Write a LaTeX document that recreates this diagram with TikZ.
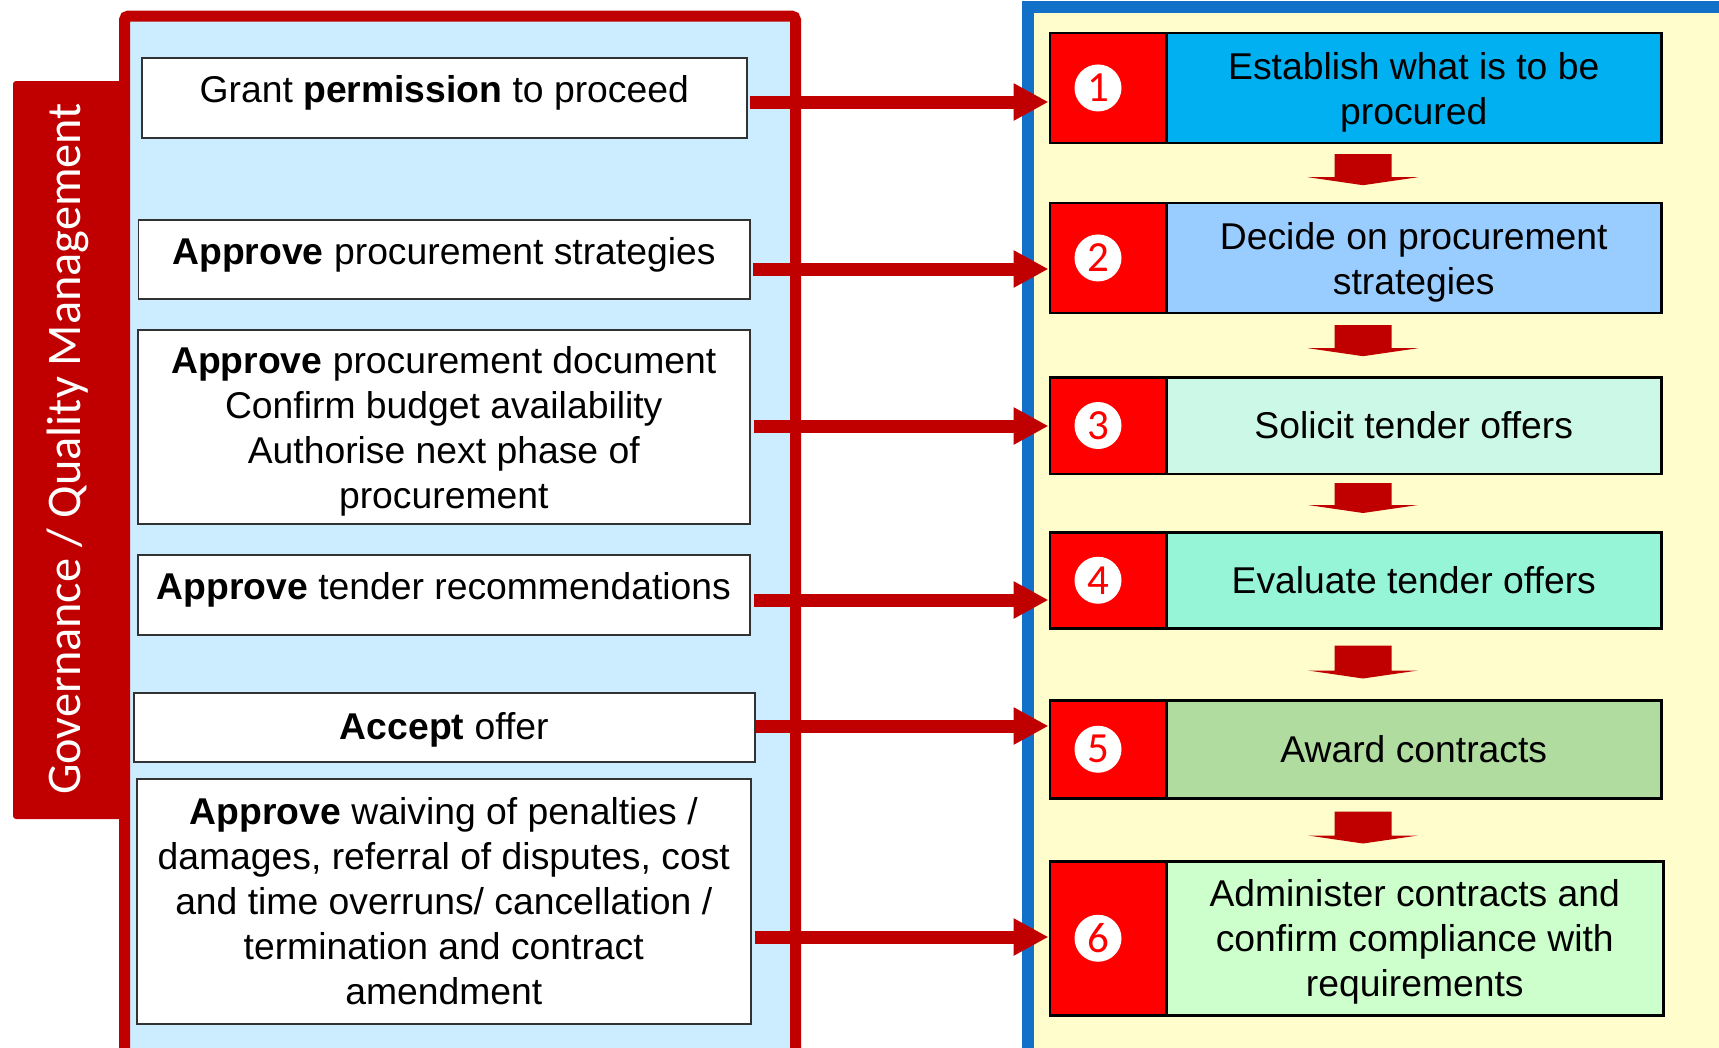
\documentclass[tikz,border=0pt]{standalone}
\usepackage{fontspec}
\setmainfont{Liberation Sans}
\newfontfamily\govfont{Carlito}
\usetikzlibrary{arrows.meta,calc}
\definecolor{fr}{RGB}{192,0,0}
\definecolor{panelblue}{RGB}{204,236,255}
\definecolor{frameblue}{RGB}{17,112,200}
\definecolor{panelyellow}{RGB}{255,253,204}
\definecolor{numred}{RGB}{255,0,0}
\definecolor{cA}{RGB}{0,176,240}
\definecolor{cB}{RGB}{153,204,255}
\definecolor{cC}{RGB}{204,248,232}
\definecolor{cD}{RGB}{150,245,215}
\definecolor{cE}{RGB}{176,220,160}
\definecolor{cF}{RGB}{204,255,204}
\definecolor{boxline}{RGB}{50,50,50}
\newcommand\shiftdn[1]{\rule{0pt}{#1pt}}
\newcommand\shiftup[1]{\rule[-#1pt]{0pt}{#1pt}}
\newcommand\blockdown[3]{%
  \fill[fr] ($(#1.south -| ax)+(-28.5,#2)$) -- ++(57,0) -- ++(0,{#3-8}) -- ++(26.5,0)
    -- ++(-55,8) -- ++(-55,-8) -- ++(26.5,0) -- cycle;}
\tikzset{
  lbox/.style={draw=boxline, line width=1.5pt, fill=white, anchor=north west, inner sep=0pt,
    align=center, font=\fontsize{37.3}{45}\selectfont},
  numbox/.style={draw=black, line width=2.5pt, fill=numred, anchor=north west, inner sep=0pt,
    minimum width=116.5pt},
  stepbox/.style={draw=black, line width=2.5pt, anchor=north west, inner sep=0pt,
    minimum width=495pt, align=center, font=\fontsize{37.3}{45}\selectfont},
  numcirc/.style={circle, fill=white, minimum size=47pt, inner sep=0pt, text=numred,
    font=\govfont\fontsize{43}{43}\selectfont},
  harrow/.style={draw=fr, line width=13pt, -{Triangle[length=35pt,width=35pt]}},
}
\begin{document}
\begin{tikzpicture}[x=1pt,y=-1pt]
\fill[white] (0,0) rectangle (1719,1047);
\useasboundingbox (0,0) rectangle (1719,1047);

% governance band
\fill[fr, rounded corners=3pt] (13,81) rectangle (126,819);
\node[rotate=90, text=white, font=\govfont\fontsize{48.3}{48.3}\selectfont] (gov) at (68,449)
  {Governance / Quality Management};

% left panel
\draw[fr, line width=11pt, fill=panelblue, rounded corners=4pt]
  (124.5,1070) -- (124.5,16) -- (795.5,16) -- (795.5,1070) -- cycle;

% right panel
\draw[frameblue, line width=12pt, fill=panelyellow] (1028,7) rectangle (1740,1058);

% left boxes
\node[lbox, minimum width=605pt, minimum height=80pt] (b1) at (141,57)
  {\shiftup{16.6}Grant \textbf{permission} to proceed};
\node[lbox, minimum width=611.5pt, minimum height=79pt] (b2) at (137.5,219)
  {\shiftup{16.6}\textbf{Approve} procurement strategies};
\node[lbox, minimum width=612pt, minimum height=194pt] (b3) at (137,329)
  {\shiftdn{36}\textbf{Approve} procurement document\\Confirm budget availability\\Authorise next phase of\\procurement};
\node[lbox, minimum width=612pt, minimum height=80pt] (b4) at (137,554)
  {\shiftup{16.6}\textbf{Approve} tender recommendations};
\node[lbox, minimum width=621pt, minimum height=69pt] (b5) at (133,692)
  {\shiftdn{31.4}\textbf{Accept} offer};
\node[lbox, minimum width=614pt, minimum height=245pt] (b6) at (136,778)
  {\textbf{Approve} waiving of penalties /\\damages, referral of disputes, cost\\and time overruns/ cancellation /\\termination and contract\\amendment};

% step boxes
\node[numbox, minimum height=110pt] (n1) at (1048.5,31.7) {};
\node[stepbox, fill=cA, minimum height=110pt] (t1) at (1165,31.7) {\shiftdn{36}Establish what is to be\\procured};
\node[numbox, minimum height=110pt] (n2) at (1048.5,201.7) {};
\node[stepbox, fill=cB, minimum height=110pt] (t2) at (1165,201.7) {\shiftdn{35}Decide on procurement\\strategies};
\node[numbox, minimum height=96.5pt] (n3) at (1048.5,376) {};
\node[stepbox, fill=cC, minimum height=96.5pt] (t3) at (1165,376) {Solicit tender offers};
\node[numbox, minimum height=96pt] (n4) at (1048.5,531) {};
\node[stepbox, fill=cD, minimum height=96pt] (t4) at (1165,531) {Evaluate tender offers};
\node[numbox, minimum height=98pt] (n5) at (1048.5,699) {};
\node[stepbox, fill=cE, minimum height=98pt] (t5) at (1165,699) {Award contracts};
\node[numbox, minimum height=154pt] (n6) at (1048.5,860) {};
\node[stepbox, fill=cF, minimum height=154pt, minimum width=497pt] (t6) at (1165,860)
  {\shiftdn{35}Administer contracts and\\confirm compliance with\\requirements};

% number circles
\foreach \i in {1,...,6}{
  \node[numcirc] (c\i) at ([xshift=-10pt]n\i.center) {\i};
}

% horizontal arrows
\coordinate (y1) at (0,102);
\coordinate (y2) at (0,269);
\coordinate (y3) at (0,426);
\coordinate (y4) at (0,600);
\coordinate (y5) at (0,726);
\coordinate (y6) at (0,937);
\draw[harrow] (b1.east |- y1) ++(2,0) -- (n1.west |- y1);
\draw[harrow] (b2.east |- y2) ++(2,0) -- (n2.west |- y2);
\draw[harrow] (b3.east |- y3) ++(3,0) -- (n3.west |- y3);
\draw[harrow] (b4.east |- y4) ++(3,0) -- (n4.west |- y4);
\draw[harrow] (b5.east |- y5) ++(0,0) -- (n5.west |- y5);
\draw[harrow] (b6.east |- y6) ++(3,0) -- (n6.west |- y6);

% down block arrows between steps
\coordinate (ax) at (1363,0);
\blockdown{t1}{10}{31}
\blockdown{t2}{11}{31}
\blockdown{t3}{8}{30}
\blockdown{t4}{16}{33}
\blockdown{t5}{12}{32}
\end{tikzpicture}
\end{document}
